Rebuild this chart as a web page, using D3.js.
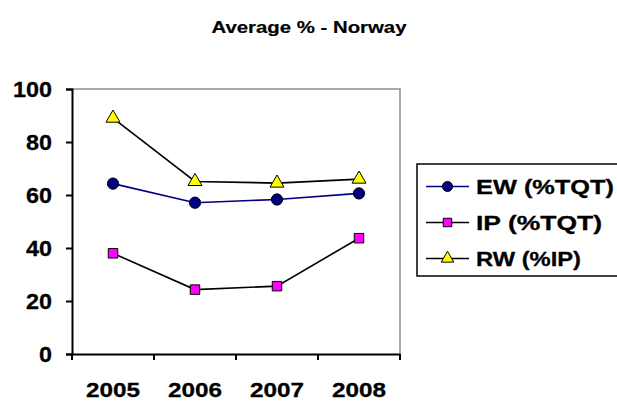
<!DOCTYPE html>
<html>
<head>
<meta charset="utf-8">
<script src="https://cdn.jsdelivr.net/npm/d3@7"></script>
<style>
  body { margin: 0; background: #fff; }
  text { font-family: "Liberation Sans", Arial, sans-serif; font-weight: bold; fill: #000; stroke: #000; stroke-width: 0.3px; }
</style>
</head>
<body>
<div id="chart"></div>
<script>
// data
var years = ["2005", "2006", "2007", "2008"];
var ew = [64.3, 57.1, 58.3, 60.6];   // EW (%TQT)
var ip = [38.0, 24.3, 25.6, 43.7];   // IP (%TQT)
var rw = [89.0, 65.1, 64.5, 66.0];   // RW (%IP)
var yTicks = [0, 20, 40, 60, 80, 100];
var legendWidths = [138, 126, 105];

var width = 617, height = 403;
var margin = { top: 89, left: 72 }, plotW = 328, plotH = 265;

var svg = d3.select("#chart").append("svg")
    .attr("width", width)
    .attr("height", height);

svg.append("text")
    .attr("x", 309).attr("y", 33)
    .attr("text-anchor", "middle")
    .style("font-size", "17px")
    .style("stroke-width", "0.2px")
    .attr("textLength", 195).attr("lengthAdjust", "spacingAndGlyphs")
    .text("Average % - Norway");

var g = svg.append("g")
    .attr("transform", "translate(" + margin.left + "," + margin.top + ")");

var x = d3.scaleBand().domain(years).range([0, plotW]);
var y = d3.scaleLinear().domain([0, 100]).range([plotH, 0]);
var cx = function (d, i) { return x(years[i]) + x.bandwidth() / 2; };

// plot frame (grey on top and right)
g.append("path")
    .attr("d", "M0,0H" + plotW + "V" + plotH)
    .attr("fill", "none")
    .attr("stroke", "#8c8c8c")
    .attr("stroke-width", 1.5);

// y axis
var yAxis = g.append("g")
    .call(d3.axisLeft(y).tickValues(yTicks).tickSize(6).tickPadding(14));
yAxis.select(".domain").attr("stroke-width", 2);
yAxis.selectAll(".tick line").attr("stroke-width", 2);
yAxis.selectAll(".tick text")
    .style("font-size", "22px")
    .attr("x", -20)
    .attr("dy", "0.36em")
    .attr("textLength", function (d) { return String(d).length * 13; })
    .attr("lengthAdjust", "spacingAndGlyphs");

// x axis, ticks between the categories
var xAxis = g.append("g")
    .attr("transform", "translate(0," + plotH + ")")
    .call(d3.axisBottom(x).tickSize(0).tickPadding(28));
xAxis.select(".domain").attr("stroke-width", 2);
xAxis.selectAll(".tick text")
    .style("font-size", "21px")
    .attr("textLength", 54)
    .attr("lengthAdjust", "spacingAndGlyphs");
xAxis.selectAll(".sep")
    .data(d3.range(years.length + 1))
    .enter().append("line")
    .attr("x1", function (i) { return i * x.step(); })
    .attr("x2", function (i) { return i * x.step(); })
    .attr("y1", 0).attr("y2", 6)
    .attr("stroke", "#000").attr("stroke-width", 2);

var line = d3.line()
    .x(cx)
    .y(function (d) { return y(d); });

var series = [
    { name: "EW (%TQT)", values: ew, stroke: "#000080", fill: "#000080", shape: d3.symbolCircle, size: 100 },
    { name: "IP (%TQT)", values: ip, stroke: "#000000", fill: "#ff00ff", shape: d3.symbolSquare, size: 90 },
    { name: "RW (%IP)", values: rw, stroke: "#000000", fill: "#ffff00", shape: d3.symbolTriangle, size: 85 }
];

series.forEach(function (s) {
    g.append("path")
        .attr("d", line(s.values))
        .attr("fill", "none")
        .attr("stroke", s.stroke)
        .attr("stroke-width", 1.6);
    g.selectAll(null)
        .data(s.values)
        .enter().append("path")
        .attr("transform", function (d, i) { return "translate(" + cx(d, i) + "," + y(d) + ")"; })
        .attr("d", d3.symbol().type(s.shape).size(s.size))
        .attr("fill", s.fill)
        .attr("stroke", "#000")
        .attr("stroke-width", 1);
});

// legend
var legend = svg.append("g").attr("transform", "translate(417,164)");
legend.append("rect")
    .attr("width", 205).attr("height", 112)
    .attr("fill", "#fff")
    .attr("stroke", "#000").attr("stroke-width", 1.5);

series.forEach(function (s, i) {
    var ly = 22.5 + i * 36;
    legend.append("line")
        .attr("x1", 9).attr("x2", 52)
        .attr("y1", ly).attr("y2", ly)
        .attr("stroke", s.stroke).attr("stroke-width", 1.6);
    legend.append("path")
        .attr("transform", "translate(30.5," + ly + ")")
        .attr("d", d3.symbol().type(s.shape).size(s.size * 0.8))
        .attr("fill", s.fill)
        .attr("stroke", "#000").attr("stroke-width", 1);
    legend.append("text")
        .attr("x", 59).attr("y", ly + 7.5)
        .style("font-size", "21px")
        .attr("textLength", legendWidths[i])
        .attr("lengthAdjust", "spacingAndGlyphs")
        .text(s.name);
});
</script>
</body>
</html>
